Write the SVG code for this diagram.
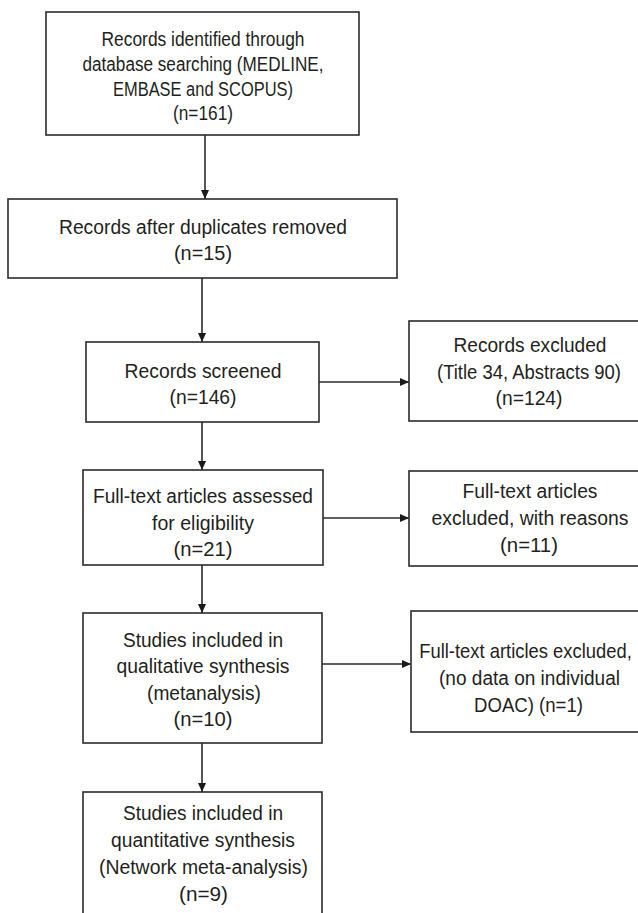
<svg xmlns="http://www.w3.org/2000/svg" width="638" height="913" viewBox="0 0 638 913">
<defs>
<style>
.box{fill:#fff;stroke:#2b2b2b;stroke-width:1.6}
.t{font-family:"Liberation Sans",Arial,sans-serif;font-size:20px;fill:#231f20;text-anchor:middle}
.c{fill:none;stroke:#2b2b2b;stroke-width:1.6}
</style>
<marker id="ah" markerWidth="10" markerHeight="10" refX="9" refY="5" orient="auto" markerUnits="userSpaceOnUse">
<path d="M0,1 L9,5 L0,9 Z" fill="#1a1a1a"/>
</marker>
</defs>
<rect width="638" height="913" fill="#fff"/>
<g id="connectors">
<line class="c" x1="205" y1="135" x2="205" y2="199" marker-end="url(#ah)"/>
<line class="c" x1="202" y1="278" x2="202" y2="342" marker-end="url(#ah)"/>
<line class="c" x1="319" y1="382" x2="409" y2="382" marker-end="url(#ah)"/>
<line class="c" x1="202" y1="422" x2="202" y2="470" marker-end="url(#ah)"/>
<line class="c" x1="323" y1="518" x2="409" y2="518" marker-end="url(#ah)"/>
<line class="c" x1="202" y1="565" x2="202" y2="613" marker-end="url(#ah)"/>
<line class="c" x1="322" y1="664" x2="411" y2="664" marker-end="url(#ah)"/>
<line class="c" x1="202" y1="743" x2="202" y2="792" marker-end="url(#ah)"/>
</g>
<g id="identified">
<rect class="box" x="46" y="12" width="313" height="123"/>
<text class="t" x="203" y="46" textLength="203" lengthAdjust="spacingAndGlyphs">Records identified through</text>
<text class="t" x="203" y="71" textLength="241" lengthAdjust="spacingAndGlyphs">database searching (MEDLINE,</text>
<text class="t" x="203" y="96" textLength="180" lengthAdjust="spacingAndGlyphs">EMBASE and SCOPUS)</text>
<text class="t" x="203" y="120" textLength="60" lengthAdjust="spacingAndGlyphs">(n=161)</text>
</g>
<g id="duplicates">
<rect class="box" x="8" y="199" width="389" height="79"/>
<text class="t" x="203" y="234" textLength="288" lengthAdjust="spacingAndGlyphs">Records after duplicates removed</text>
<text class="t" x="203" y="260" textLength="58" lengthAdjust="spacingAndGlyphs">(n=15)</text>
</g>
<g id="screened">
<rect class="box" x="86" y="342" width="233" height="80"/>
<text class="t" x="203" y="378" textLength="157" lengthAdjust="spacingAndGlyphs">Records screened</text>
<text class="t" x="203" y="404" textLength="67" lengthAdjust="spacingAndGlyphs">(n=146)</text>
</g>
<g id="excluded">
<rect class="box" x="409" y="321" width="245" height="100"/>
<text class="t" x="530" y="352" textLength="153" lengthAdjust="spacingAndGlyphs">Records excluded</text>
<text class="t" x="529" y="379" textLength="184" lengthAdjust="spacingAndGlyphs">(Title 34, Abstracts 90)</text>
<text class="t" x="529" y="405" textLength="67" lengthAdjust="spacingAndGlyphs">(n=124)</text>
</g>
<g id="fulltext">
<rect class="box" x="83" y="470" width="240" height="95"/>
<text class="t" x="203" y="503" textLength="220" lengthAdjust="spacingAndGlyphs">Full-text articles assessed</text>
<text class="t" x="203" y="530" textLength="102" lengthAdjust="spacingAndGlyphs">for eligibility</text>
<text class="t" x="203" y="556" textLength="59" lengthAdjust="spacingAndGlyphs">(n=21)</text>
</g>
<g id="ft-excluded">
<rect class="box" x="409" y="471" width="245" height="95"/>
<text class="t" x="530" y="498" textLength="135" lengthAdjust="spacingAndGlyphs">Full-text articles</text>
<text class="t" x="530" y="525" textLength="197" lengthAdjust="spacingAndGlyphs">excluded, with reasons</text>
<text class="t" x="529" y="552" textLength="58" lengthAdjust="spacingAndGlyphs">(n=11)</text>
</g>
<g id="qualitative">
<rect class="box" x="83" y="613" width="239" height="130"/>
<text class="t" x="203" y="647" textLength="160" lengthAdjust="spacingAndGlyphs">Studies included in</text>
<text class="t" x="203" y="673" textLength="173" lengthAdjust="spacingAndGlyphs">qualitative synthesis</text>
<text class="t" x="204" y="700" textLength="114" lengthAdjust="spacingAndGlyphs">(metanalysis)</text>
<text class="t" x="203" y="726" textLength="59" lengthAdjust="spacingAndGlyphs">(n=10)</text>
</g>
<g id="ft-excluded2">
<rect class="box" x="411" y="611" width="245" height="121"/>
<text class="t" transform="translate(525.5,658) scale(0.92,1)" x="0" y="0">Full-text articles excluded,</text>
<text class="t" x="529.5" y="685" textLength="181" lengthAdjust="spacingAndGlyphs">(no data on individual</text>
<text class="t" x="528.5" y="712" textLength="109" lengthAdjust="spacingAndGlyphs">DOAC) (n=1)</text>
</g>
<g id="quantitative">
<rect class="box" x="83" y="792" width="239" height="140"/>
<text class="t" x="203" y="820" textLength="160" lengthAdjust="spacingAndGlyphs">Studies included in</text>
<text class="t" x="203" y="847" textLength="184" lengthAdjust="spacingAndGlyphs">quantitative synthesis</text>
<text class="t" x="203.5" y="874" textLength="209" lengthAdjust="spacingAndGlyphs">(Network meta-analysis)</text>
<text class="t" x="203.5" y="901" textLength="49" lengthAdjust="spacingAndGlyphs">(n=9)</text>
</g>
</svg>
